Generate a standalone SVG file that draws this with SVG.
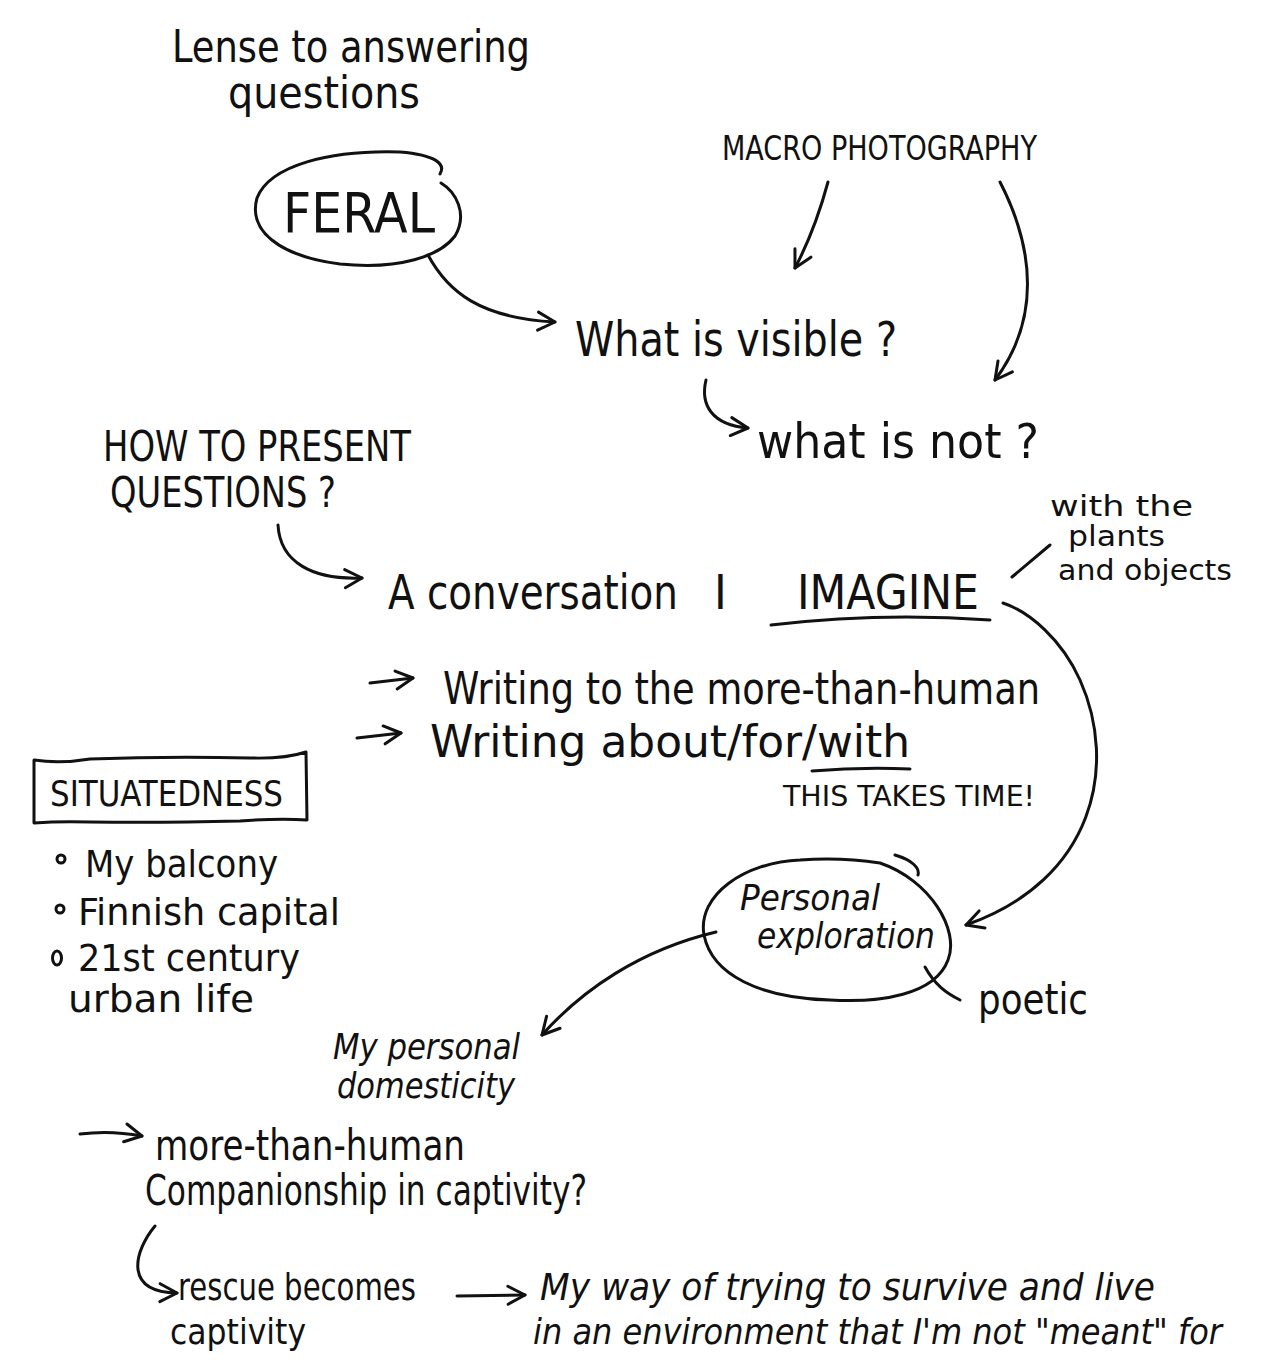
<svg xmlns="http://www.w3.org/2000/svg" width="1264" height="1362" viewBox="0 0 1264 1362">
<style>
.t{font-family:"Liberation Sans Narrow","DejaVu Sans Condensed","Liberation Sans",sans-serif;fill:#111;}
.i{font-style:italic;}
.ln{fill:none;stroke:#111;stroke-width:3;stroke-linecap:round;stroke-linejoin:round;}
</style>
<defs>
<marker id="ah" viewBox="0 0 24 24" refX="21" refY="12" markerWidth="24" markerHeight="24" markerUnits="userSpaceOnUse" orient="auto">
<path d="M4,3 L21,12 L4,21" fill="none" stroke="#111" stroke-width="3" stroke-linecap="round" stroke-linejoin="round"/>
</marker>
</defs>
<rect width="1264" height="1362" fill="#fff"/>

<g id="lense">
<text class="t" x="172" y="62" font-size="44" textLength="358" lengthAdjust="spacingAndGlyphs">Lense to answering</text>
<text class="t" x="228" y="108" font-size="44" textLength="192" lengthAdjust="spacingAndGlyphs">questions</text>
</g>

<g id="feral">
<path class="ln" d="M440,174 C446,164 436,155 400,152 C330,150 270,165 257,198 C248,230 278,256 340,264 C400,270 440,256 455,236 C468,214 456,192 441,183"/>
<text class="t" x="283" y="232" font-size="56" textLength="152" lengthAdjust="spacingAndGlyphs">FERAL</text>
</g>

<g id="macro">
<text class="t" x="722" y="160" font-size="34" textLength="315" lengthAdjust="spacingAndGlyphs">MACRO PHOTOGRAPHY</text>
</g>

<g id="visible">
<text class="t" x="575" y="356" font-size="48" textLength="322" lengthAdjust="spacingAndGlyphs">What is visible ?</text>
</g>

<g id="whatnot">
<text class="t" x="757" y="458" font-size="48" textLength="282" lengthAdjust="spacingAndGlyphs">what is not ?</text>
</g>

<g id="howto">
<text class="t" x="103" y="461" font-size="42" textLength="308" lengthAdjust="spacingAndGlyphs">HOW TO PRESENT</text>
<text class="t" x="110" y="507" font-size="42" textLength="226" lengthAdjust="spacingAndGlyphs">QUESTIONS ?</text>
</g>

<g id="conversation">
<text class="t" x="388" y="609" font-size="48" textLength="290" lengthAdjust="spacingAndGlyphs">A conversation</text>
<text class="t" x="714" y="609" font-size="48">I</text>
<text class="t" x="797" y="609" font-size="48" textLength="182" lengthAdjust="spacingAndGlyphs">IMAGINE</text>
<path class="ln" d="M771,625 Q880,612 990,620"/>
</g>

<g id="withplants">
<text class="t" x="1050" y="516" font-size="28" textLength="143" lengthAdjust="spacingAndGlyphs">with the</text>
<text class="t" x="1068" y="546" font-size="28" textLength="97" lengthAdjust="spacingAndGlyphs">plants</text>
<text class="t" x="1058" y="580" font-size="28" textLength="174" lengthAdjust="spacingAndGlyphs">and objects</text>
</g>

<g id="writing">
<text class="t" x="443" y="704" font-size="44" textLength="597" lengthAdjust="spacingAndGlyphs">Writing to the more-than-human</text>
<text class="t" x="430" y="757" font-size="44" textLength="480" lengthAdjust="spacingAndGlyphs">Writing about/for/with</text>
<path class="ln" d="M812,771 Q860,767 910,769"/>
<text class="t" x="783" y="806" font-size="28" textLength="252" lengthAdjust="spacingAndGlyphs">THIS TAKES TIME!</text>
</g>

<g id="situatedness">
<path class="ln" d="M34,760 Q60,764 90,759 Q170,756 250,758 Q285,759 306,752 L307,820 Q280,818 240,821 Q160,823 90,822 Q60,821 34,823 Z"/>
<text class="t" x="50" y="806" font-size="36" textLength="233" lengthAdjust="spacingAndGlyphs">SITUATEDNESS</text>
<circle cx="61" cy="859" r="4" stroke-width="4" class="ln"/>
<text class="t" x="85" y="877" font-size="38" textLength="193" lengthAdjust="spacingAndGlyphs">My balcony</text>
<circle cx="60" cy="909" r="4" stroke-width="4" class="ln"/>
<text class="t" x="78" y="925" font-size="38" textLength="262" lengthAdjust="spacingAndGlyphs">Finnish capital</text>
<ellipse cx="57" cy="958" rx="4.5" ry="7" class="ln"/>
<text class="t" x="78" y="971" font-size="37" textLength="222" lengthAdjust="spacingAndGlyphs">21st century</text>
<text class="t" x="68" y="1012" font-size="37" textLength="186" lengthAdjust="spacingAndGlyphs">urban life</text>
</g>

<g id="personal">
<path class="ln" d="M895,855 C912,860 920,868 918,875 M880,863 C930,880 960,930 948,960 C935,995 880,1003 830,1000 C760,998 712,975 704,935 C697,895 745,862 800,860 C830,858 860,860 880,863"/>
<text class="t i" x="740" y="910" font-size="36" textLength="140" lengthAdjust="spacingAndGlyphs">Personal</text>
<text class="t i" x="757" y="948" font-size="36" textLength="178" lengthAdjust="spacingAndGlyphs">exploration</text>
</g>

<g id="poetic">
<text class="t" x="978" y="1014" font-size="42" textLength="110" lengthAdjust="spacingAndGlyphs">poetic</text>
</g>

<g id="domesticity">
<text class="t i" x="333" y="1059" font-size="36" textLength="187" lengthAdjust="spacingAndGlyphs">My personal</text>
<text class="t i" x="337" y="1098" font-size="36" textLength="178" lengthAdjust="spacingAndGlyphs">domesticity</text>
</g>

<g id="companionship">
<text class="t" x="155" y="1160" font-size="42" textLength="310" lengthAdjust="spacingAndGlyphs">more-than-human</text>
<text class="t" x="145" y="1205" font-size="42" textLength="442" lengthAdjust="spacingAndGlyphs">Companionship in captivity?</text>
</g>

<g id="rescue">
<text class="t" x="178" y="1300" font-size="38" textLength="238" lengthAdjust="spacingAndGlyphs">rescue becomes</text>
<text class="t" x="170" y="1344" font-size="36" textLength="136" lengthAdjust="spacingAndGlyphs">captivity</text>
</g>

<g id="survive">
<text class="t i" x="540" y="1300" font-size="38" textLength="615" lengthAdjust="spacingAndGlyphs">My way of trying to survive and live</text>
<text class="t i" x="533" y="1344" font-size="36" textLength="689" lengthAdjust="spacingAndGlyphs">in an environment that I'm not "meant" for</text>
</g>

<g id="connectors">
<path class="ln" marker-end="url(#ah)" d="M828,182 Q815,230 795,268"/>
<path class="ln" marker-end="url(#ah)" d="M1000,182 C1035,250 1040,320 995,380"/>
<path class="ln" marker-end="url(#ah)" d="M428,255 C448,292 480,318 555,322"/>
<path class="ln" marker-end="url(#ah)" d="M706,380 C700,405 712,425 748,428"/>
<path class="ln" marker-end="url(#ah)" d="M278,525 C280,562 312,580 362,578"/>
<path class="ln" d="M1050,545 L1012,577"/>
<path class="ln" marker-end="url(#ah)" d="M1003,603 C1030,612 1062,640 1080,680 C1118,765 1095,880 966,925"/>
<path class="ln" marker-end="url(#ah)" d="M370,683 L413,678"/>
<path class="ln" marker-end="url(#ah)" d="M357,738 L401,733"/>
<path class="ln" d="M925,967 C935,985 946,993 960,1000"/>
<path class="ln" marker-end="url(#ah)" d="M716,932 C640,950 582,990 542,1035"/>
<path class="ln" marker-end="url(#ah)" d="M80,1134 Q110,1130 142,1136"/>
<path class="ln" marker-end="url(#ah)" d="M155,1226 C135,1250 122,1292 177,1293"/>
<path class="ln" marker-end="url(#ah)" d="M457,1296 L525,1295"/>
</g>
</svg>
